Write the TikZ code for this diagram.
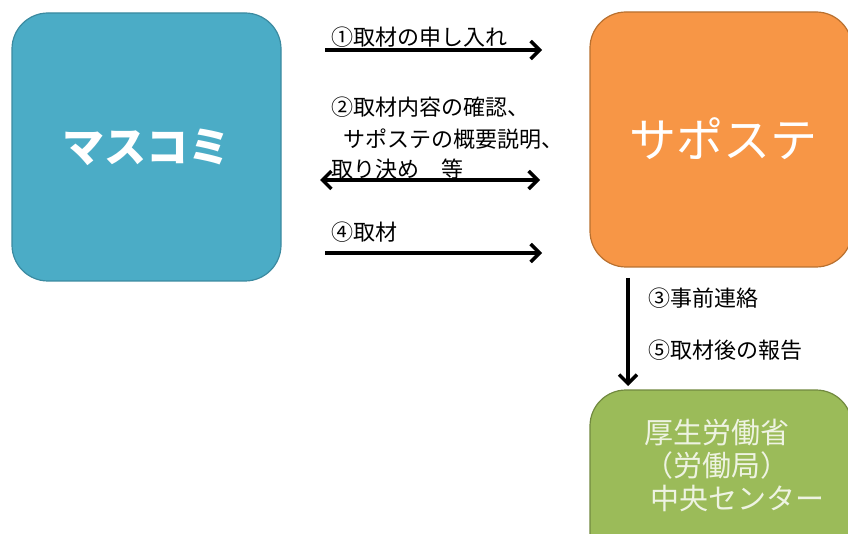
\documentclass[tikz,border=0pt]{standalone}
\usepackage{fontspec}
\setmainfont{Noto Sans CJK JP}
\newfontfamily\cjk{Noto Sans CJK JP}
\usetikzlibrary{arrows.meta}
\definecolor{mblue}{HTML}{4BACC6}
\definecolor{mblueb}{HTML}{3B8AA0}
\definecolor{morange}{HTML}{F79646}
\definecolor{moranb}{HTML}{B8702F}
\definecolor{mgreen}{HTML}{9BBB59}
\definecolor{mgreenb}{HTML}{71893F}
\definecolor{gtext}{HTML}{EEF3E2}
\tikzset{
  box/.style={draw, line width=1.2pt, rounded corners=36pt, inner sep=0pt},
  lbl/.style={anchor=west, inner sep=0pt, font=\cjk\fontsize{22}{26}\selectfont, align=left},
  tip/.style={Straight Barb[length=9pt,width=18pt,line width=3.4pt]},
  conn/.style={line width=3.4pt, -{Straight Barb[length=9pt,width=18pt,line width=3.4pt]}},
  dconn/.style={line width=3.4pt, {Straight Barb[length=9pt,width=18pt,line width=3.4pt]}-{Straight Barb[length=9pt,width=18pt,line width=3.4pt]}},
}
\begin{document}
\begin{tikzpicture}[x=1pt,y=-1pt]
\useasboundingbox (0,0) rectangle (848,534);
\clip (0,0) rectangle (848,534);
\node[box, fill=mblue, draw=mblueb, minimum width=269pt, minimum height=268pt] (masu) at (146.5,147) {};
\node[text=white, font=\cjk\bfseries\fontsize{42}{48}\selectfont] (masut) at (146.5,147) {マスコミ};
\node[box, fill=morange, draw=moranb, minimum width=262pt, minimum height=255pt] (sapo) at (721,139.5) {};
\node[text=white, font=\cjk\fontsize{47}{52}\selectfont] (sapot) at (723,139) {サポステ};
\node[box, fill=mgreen, draw=mgreenb, minimum width=262pt, minimum height=200pt] (kosei) at (721,490) {};
\node[anchor=north west, text=gtext, font=\cjk\fontsize{29}{33}\selectfont, align=left, inner sep=0pt] (koseit) at (644,419) {厚生労働省\\（労働局）\\\ 中央センター};
% arrows
\coordinate (a1s) at (325,50); \coordinate (a1e) at (542,50);
\coordinate (a2s) at (320,180); \coordinate (a2e) at (540,180);
\coordinate (a4s) at (325,253); \coordinate (a4e) at (542,253);
\coordinate (a3s) at (628,278); \coordinate (a3e) at (628,386);
\draw[conn] (a1s) -- (a1e);
\draw[dconn] (a2s) -- (a2e);
\draw[conn] (a4s) -- (a4e);
\draw[conn] (a3s) -- (a3e);
\node[lbl] (l1) at (331,37) {①取材の申し入れ};
\node[lbl] (l2a) at (331,107) {②取材内容の確認、};
\node[lbl] (l2b) at (343,139) {サポステの概要説明、};
\node[lbl] (l2c) at (331,169) {取り決め　等};
\node[lbl] (l4) at (331,232) {④取材};
\node[lbl] (l3) at (648,298) {③事前連絡};
\node[lbl] (l5) at (648,350) {⑤取材後の報告};
\end{tikzpicture}
\end{document}
